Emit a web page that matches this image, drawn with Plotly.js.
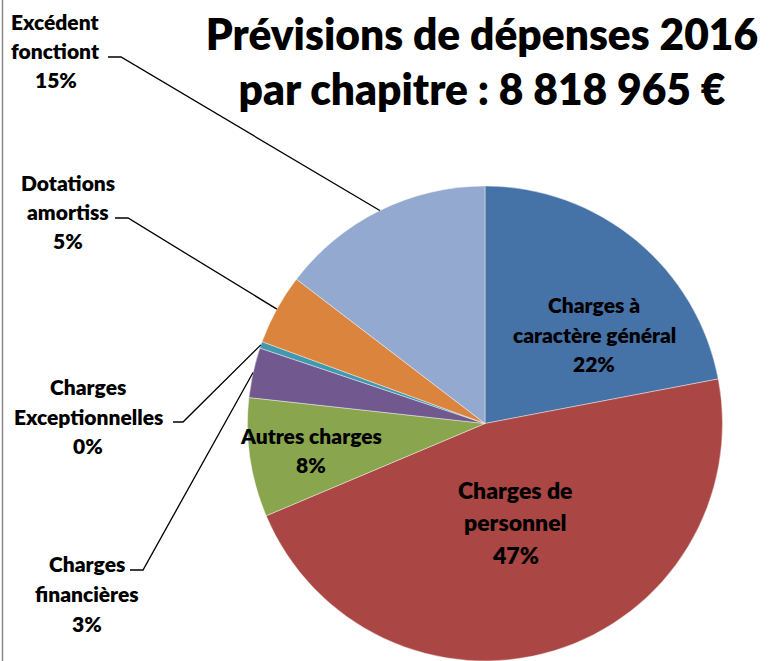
<!DOCTYPE html>
<html>
<head>
<meta charset="utf-8">
<script src="https://cdn.plot.ly/plotly-3.0.1.min.js"></script>
<style>html,body{margin:0;padding:0;background:#fff;}#chart{width:774px;height:661px;}</style>
</head>
<body>
<div id="chart"></div>
<script>
// ---- data ----
const categories = ["Charges à caractère général","Charges de personnel","Autres charges","Charges financières","Charges Exceptionnelles","Dotations amortiss","Excédent fonctiont"];
const labelText = ["Charges à<br>caractère général","Charges de<br>personnel","Autres charges","Charges<br>financières","Charges<br>Exceptionnelles","Dotations<br>amortiss","Excédent<br>fonctiont"];
const amounts = [1940000, 4114000, 714000, 300000, 40000, 423000, 1287965];
const sliceColors = ["#4572A7","#AA4643","#89A54E","#71588F","#4198AF","#DB843D","#93A9CF"];
const titleLine1 = "Prévisions de dépenses 2016";
const titlePrefix2 = "par chapitre : ";

// ---- layout geometry (pixels) ----
const W = 774, H = 661;
const pieLeft = 247, pieRight = 723, pieBottom = 661, pieTop = 186;
const FONT = "Lato, 'Liberation Sans', sans-serif";
const WEIGHT = 800;
// label block centres [x, y], font size, line spacing, leader (null = inside)
const labelPos = [
  {x:594, y:334, size:21, gap:29.5, leader:null},
  {x:515, y:522, size:23, gap:32.5, leader:null},
  {x:311, y:450, size:21, gap:29, leader:null},
  {x:87,  y:593, size:21, gap:30, leader:[[130,570],[143,570]]},
  {x:88,  y:416, size:21, gap:29.5, leader:[[173,422],[183,422]]},
  {x:68,  y:211, size:21, gap:29, leader:[[115,218],[128,218]]},
  {x:56,  y:51,  size:21, gap:29, leader:[[108,57],[121,57]]}
];

const total = amounts.reduce((a,b)=>a+b,0);
const fmt = n => String(n).replace(/\B(?=(\d{3})+(?!\d))/g, ' ');
const px = x => x / W;
const py = y => 1 - y / H;

const trace = {
  type: 'pie',
  labels: categories,
  values: amounts,
  sort: false,
  direction: 'clockwise',
  rotation: 0,
  textinfo: 'none',
  hoverinfo: 'label+value+percent',
  marker: {colors: sliceColors, line: {color: 'rgba(255,255,255,0.6)', width: 0.7}},
  domain: {x: [px(pieLeft), px(pieRight)], y: [py(pieBottom), py(pieTop)]}
};

const cx = (pieLeft + pieRight) / 2;
const r = Math.min(pieRight - pieLeft, pieBottom - pieTop) / 2;
const cy = pieBottom - r;

const annotations = [];
const shapes = [{
  type: 'line', xref: 'paper', yref: 'paper',
  x0: px(2.5), x1: px(2.5), y0: 0, y1: 1,
  line: {color: '#8a8a8a', width: 1.5}
}];

let cum = 0;
amounts.forEach((v, i) => {
  const frac = v / total;
  const mid = (cum + frac / 2) * 2 * Math.PI;
  cum += frac;
  const pct = Math.round(frac * 100) + '%';
  const lines = labelText[i].split('<br>').concat([pct]);
  const p = labelPos[i];
  const n = lines.length;
  lines.forEach((t, k) => {
    annotations.push({
      xref: 'paper', yref: 'paper',
      x: px(p.x), y: py(p.y + (k - (n - 1) / 2) * p.gap),
      xanchor: 'center', yanchor: 'middle',
      text: t, showarrow: false,
      font: {family: FONT, size: p.size, color: '#000', weight: WEIGHT}
    });
  });
  if (p.leader) {
    const ex = cx + r * Math.sin(mid);
    const ey = cy - r * Math.cos(mid);
    const pts = p.leader.concat([[ex, ey]]);
    const path = pts.map((q, j) => (j ? 'L' : 'M') + px(q[0]) + ',' + py(q[1])).join(' ');
    shapes.push({type: 'path', xref: 'paper', yref: 'paper', path: path,
      line: {color: '#000', width: 1.3}});
  }
});

const layout = {
  width: W, height: H,
  margin: {l: 0, r: 0, t: 0, b: 0},
  paper_bgcolor: '#fff',
  showlegend: false,
  title: {
    text: titleLine1 + '<br>' + titlePrefix2 + fmt(total) + ' €',
    font: {family: FONT, size: 42.5, color: '#000', weight: WEIGHT},
    x: px(482), xanchor: 'center', xref: 'container',
    y: py(50), yanchor: 'middle', yref: 'container'
  },
  annotations: annotations,
  shapes: shapes
};

Plotly.newPlot('chart', [trace], layout, {displayModeBar: false, staticPlot: true});
</script>
</body>
</html>
